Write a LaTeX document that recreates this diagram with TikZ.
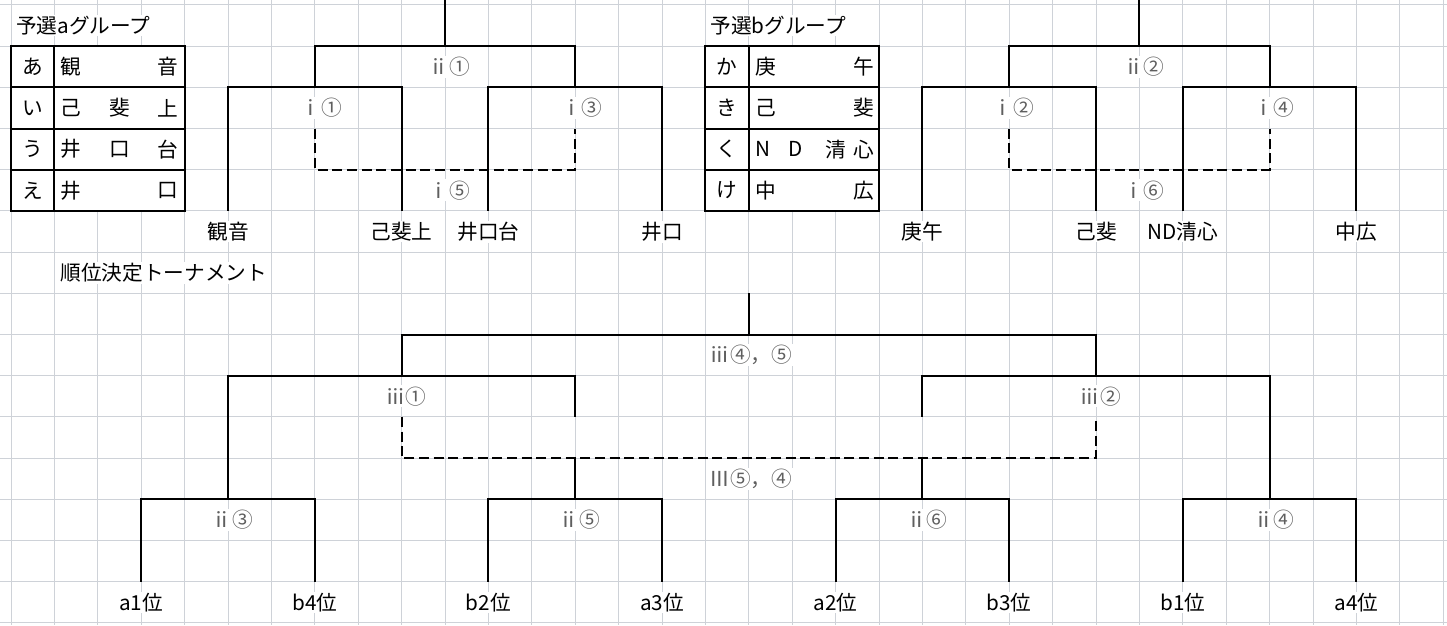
\documentclass[tikz,border=0pt]{standalone}
\usepackage{fontspec}
\setmainfont{Noto Sans CJK JP}
\definecolor{gridGray}{RGB}{206,210,216}
\definecolor{labelGray}{RGB}{95,95,95}

\begin{document}
\begin{tikzpicture}
[x=32.55pt,y=-30.9pt,
  gridDecorate/.style={draw=gridGray,line width=0.75pt},
  lineDecorate/.style={-,line width=1.5pt},
  dashDecorate/.style={-,line width=1.5pt,dash pattern=on 7.5pt off 3.5pt},
  tableDecorate/.style={-,line width=1.5pt},
  labelDecorate/.style={text=labelGray,fill=white,inner sep=1pt},
  leafDecorate/.style={fill=white,inner sep=1pt},
  titleDecorate/.style={fill=white,inner sep=1pt,anchor=west}]
\fontsize{15.5pt}{18pt}\selectfont
%% sheet and grid
\fill[white] (-0.2535,-0.1214) rectangle (33.088,15.049);
\useasboundingbox (-0.2535,-0.1214) rectangle (33.088,15.049);
\foreach \c in {0,...,33}
{
  \draw[gridDecorate] (\c,-0.1214) -- (\c,15.049);
}
\foreach \r in {0,...,15}
{
  \draw[gridDecorate] (-0.2535,\r) -- (33.088,\r);
}
%% titles
\node[titleDecorate] (aTitle) at (0.08,0.5) {予選aグループ};
\node[titleDecorate] (bTitle) at (16.08,0.5) {予選bグループ};
\node[titleDecorate] (rankTitle) at (1.1,6.5) {順位決定トーナメント};
%% group tables
\foreach \x in {0,16}
{
  \draw[tableDecorate,fill=white] (\x,1) rectangle (\x+4,5);
  \draw[tableDecorate] (\x+1,1) -- (\x+1,5);
  \foreach \r in {2,3,4}
    \draw[tableDecorate] (\x,\r) -- (\x+4,\r);
}
\foreach \nodename/\x/\y/\ch in {kA/0.5/1.5/あ, kI/0.5/2.5/い, kU/0.5/3.5/う, kE/0.5/4.5/え,
  kKa/16.5/1.5/か, kKi/16.5/2.5/き, kKu/16.5/3.5/く, kKe/16.5/4.5/け,
  aA1/1.38/1.5/観, aA2/3.62/1.5/音, aI1/1.38/2.5/己, aI2/2.5/2.5/斐, aI3/3.62/2.5/上,
  aU1/1.38/3.5/井, aU2/2.5/3.5/口, aU3/3.62/3.5/台, aE1/1.38/4.5/井, aE2/3.62/4.5/口,
  bKa1/17.4/1.5/庚, bKa2/19.65/1.5/午, bKi1/17.4/2.5/己, bKi2/19.65/2.5/斐,
  bKu1/17.33/3.5/N, bKu2/18.08/3.5/D, bKu3/19.0/3.5/清, bKu4/19.65/3.5/心,
  bKe1/17.4/4.5/中, bKe2/19.65/4.5/広}
{
  \node (\nodename) at (\x,\y) {\ch};
}
%% leaves
\foreach \nodename/\x/\y/\txt in {kannon/5/5/観音, koiue/9/5/己斐上, idai/11/5/井口台, iguchi/15/5/井口,
  kogo/21/5/庚午, koi/25/5/己斐, seishin/27/5/ND清心, chuko/31/5/中広,
  aOne/3/14/a1位, bFour/7/14/b4位, bTwo/11/14/b2位, aThree/15/14/a3位,
  aTwo/19/14/a2位, bThree/23/14/b3位, bOne/27/14/b1位, aFour/31/14/a4位}
{
  \node[leafDecorate] (\nodename) at (\x,\y+0.5) {\txt};
  \coordinate (\nodename Top) at (\x,\y);
}
%% match labels
\foreach \nodename/\x/\y/\txt in {ii1/10.1/1.5/ⅱ①, i1/7.15/2.5/ⅰ①, i3/13.15/2.5/ⅰ③, i5/10.1/4.5/ⅰ⑤,
  ii2/26.1/1.5/ⅱ②, i2/23.1/2.5/ⅰ②, i4/29.1/2.5/ⅰ④, i6/26.1/4.5/ⅰ⑥,
  iii45/17.05/8.5/ⅲ④，⑤, iii1/9.1/9.5/ⅲ①, iii2/25.1/9.5/ⅲ②, III54/17.05/11.5/Ⅲ⑤，④,
  ii3/5.1/12.5/ⅱ③, ii5/13.1/12.5/ⅱ⑤, ii6/21.1/12.5/ⅱ⑥, ii4/29.1/12.5/ⅱ④}
{
  \node[labelDecorate] (\nodename) at (\x,\y) {\txt};
}
%% bracket corners
\foreach \nodename/\x/\y in {aRoot/10/-0.13, ii1Bar/10/1, i1Bar/7/2, i3Bar/13/2, i1Dash/7/3, i5Bar/10/4, i3Dash/13/3,
  bRoot/26/-0.13, ii2Bar/26/1, i2Bar/23/2, i4Bar/29/2, i2Dash/23/3, i6Bar/26/4, i4Dash/29/3,
  fRoot/17/7, iii45Bar/17/8, iii1Bar/9/9, iii2Bar/25/9, iii1Dash/9/10, iii54Bar/17/11, iii2Dash/25/10,
  iii1Stub/13/10, iii2Stub/21/10, ii5Stub/13/11, ii6Stub/21/11,
  ii3Bar/5/12, ii5Bar/13/12, ii6Bar/21/12, ii4Bar/29/12}
{
  \coordinate (\nodename) at (\x,\y);
}
%% group a
\draw[lineDecorate] (kannonTop) |- (i1Bar) -| (koiueTop);
\draw[lineDecorate] (idaiTop) |- (i3Bar) -| (iguchiTop);
\draw[lineDecorate] (i1Bar) |- (ii1Bar) -| (i3Bar);
\draw[lineDecorate] (ii1Bar) -- (aRoot);
\draw[dashDecorate] (i1Dash) |- (i5Bar) -| (i3Dash);
%% group b
\draw[lineDecorate] (kogoTop) |- (i2Bar) -| (koiTop);
\draw[lineDecorate] (seishinTop) |- (i4Bar) -| (chukoTop);
\draw[lineDecorate] (i2Bar) |- (ii2Bar) -| (i4Bar);
\draw[lineDecorate] (ii2Bar) -- (bRoot);
\draw[dashDecorate] (i2Dash) |- (i6Bar) -| (i4Dash);
%% ranking
\draw[lineDecorate] (aOneTop) |- (ii3Bar) -| (bFourTop);
\draw[lineDecorate] (bTwoTop) |- (ii5Bar) -| (aThreeTop);
\draw[lineDecorate] (aTwoTop) |- (ii6Bar) -| (bThreeTop);
\draw[lineDecorate] (bOneTop) |- (ii4Bar) -| (aFourTop);
\draw[lineDecorate] (ii3Bar) |- (iii1Bar) -| (iii1Stub);
\draw[lineDecorate] (ii5Bar) -- (ii5Stub);
\draw[lineDecorate] (iii2Stub) |- (iii2Bar) -| (ii4Bar);
\draw[lineDecorate] (ii6Bar) -- (ii6Stub);
\draw[lineDecorate] (iii1Bar) |- (iii45Bar) -| (iii2Bar);
\draw[lineDecorate] (iii45Bar) -- (fRoot);
\draw[dashDecorate] (iii1Dash) |- (iii54Bar) -| (iii2Dash);
\end{tikzpicture}
\end{document}
